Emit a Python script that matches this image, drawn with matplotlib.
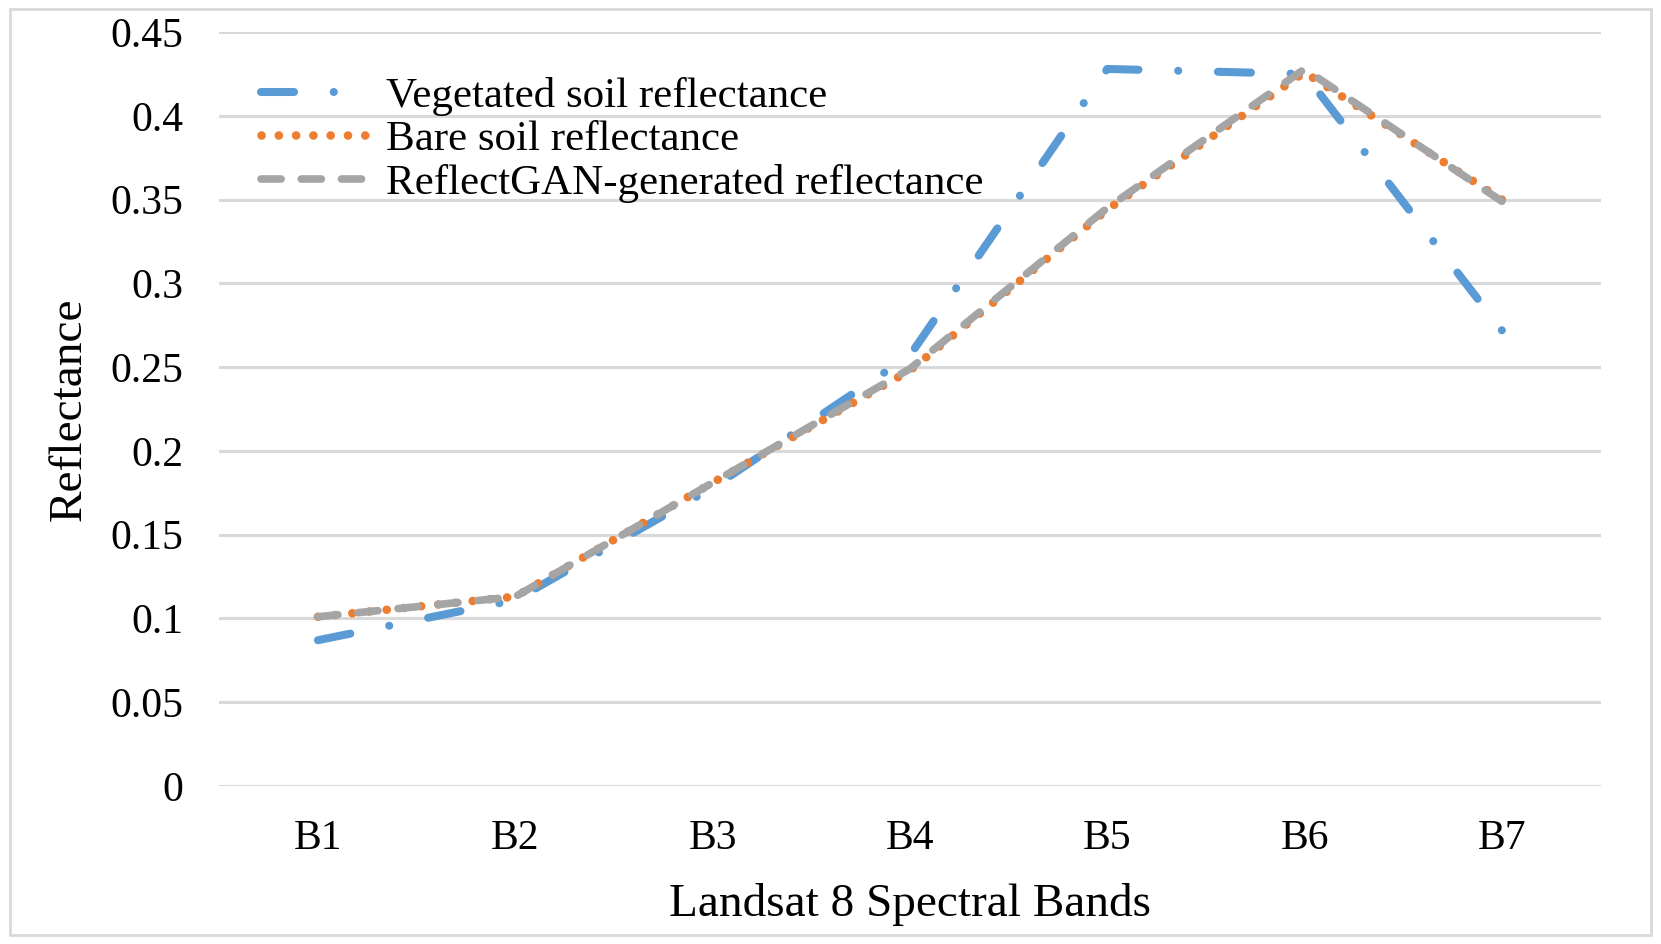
import numpy as np
import matplotlib
matplotlib.use('Agg')
import matplotlib.pyplot as plt
from matplotlib.patches import Rectangle

# Landsat 8 bands and the three reflectance curves
bands = ['B1', 'B2', 'B3', 'B4', 'B5', 'B6', 'B7']
vegetated = [0.087, 0.111, 0.178, 0.257, 0.428, 0.425, 0.272]
bare = [0.101, 0.113, 0.181, 0.248, 0.344, 0.426, 0.350]
generated = [0.101, 0.113, 0.181, 0.249, 0.345, 0.428, 0.349]
yticks = [0, 0.05, 0.1, 0.15, 0.2, 0.25, 0.3, 0.35, 0.4, 0.45]
ytick_labels = ['0', '0.05', '0.1', '0.15', '0.2', '0.25', '0.3', '0.35', '0.4', '0.45']

plt.rcParams['font.family'] = ['Liberation Serif', 'DejaVu Serif']

DPI = 100
fig = plt.figure(figsize=(16.61, 9.44), dpi=DPI)
ax = fig.add_axes([0.132, 0.1674, 0.8316, 0.7986])
ax.set_xlim(-0.5, 6.5)
ax.set_ylim(0, 0.45)

x = np.arange(len(bands))


# stretch a dash pattern a little so the line ends on a drawn piece, like the original
def fit_dashes(xs, ys, pattern, lw, tail):
    pts = ax.transData.transform(np.column_stack([xs, ys]))
    length = np.sum(np.hypot(*np.diff(pts, axis=0).T)) * 72.0 / DPI
    period = sum(pattern) * lw
    end = sum(tail) * lw
    k = max(1, round((length - end) / period))
    s = length / (k * period + end)
    return tuple(p * s for p in pattern)


lw_b, lw_o, lw_g = 5.8, 6.2, 5.5
pat_b = (4.0, 4.8, 0.01, 4.8)
pat_o = (0.01, 2.0)
pat_g = (2.6, 2.6)

ax.plot(x, vegetated, color='#5B9BD5', lw=lw_b,
        dashes=fit_dashes(x, vegetated, pat_b, lw_b, pat_b[:3]),
        dash_capstyle='round', label='Vegetated soil reflectance', zorder=3)
ax.plot(x, bare, color='#ED7D31', lw=lw_o,
        dashes=fit_dashes(x, bare, pat_o, lw_o, pat_o[:1]),
        dash_capstyle='round', label='Bare soil reflectance', zorder=4)
ax.plot(x, generated, color='#A5A5A5', lw=lw_g,
        dashes=fit_dashes(x, generated, pat_g, lw_g, pat_g[:1]),
        dash_capstyle='round', label='ReflectGAN-generated reflectance', zorder=5)

ax.set_xticks(x)
ax.set_xticklabels(bands)
ax.set_yticks(yticks)
ax.set_yticklabels(ytick_labels)
ax.tick_params(length=0, labelsize=30)
ax.tick_params(axis='y', pad=26)
ax.tick_params(axis='x', pad=24)
ax.yaxis.grid(True, color='#D9D9D9', lw=2.2)
ax.set_axisbelow(True)
for s in ax.spines.values():
    s.set_visible(False)

ax.set_xlabel('Landsat 8 Spectral Bands', fontsize=34, labelpad=18)
ax.set_ylabel('Reflectance', fontsize=34, labelpad=14)

ax.legend(loc='upper left', bbox_to_anchor=(0.03, 0.941), frameon=False, fontsize=31,
          handlelength=2.45, handletextpad=0.45, labelspacing=0.1, borderaxespad=0,
          borderpad=0)

# thin grey frame around the whole chart
fig.patches.append(Rectangle((0.006, 0.01), 0.988, 0.98, transform=fig.transFigure,
                             fill=False, edgecolor='#D9D9D9', lw=2))

fig.savefig('out.png', dpi=DPI)
